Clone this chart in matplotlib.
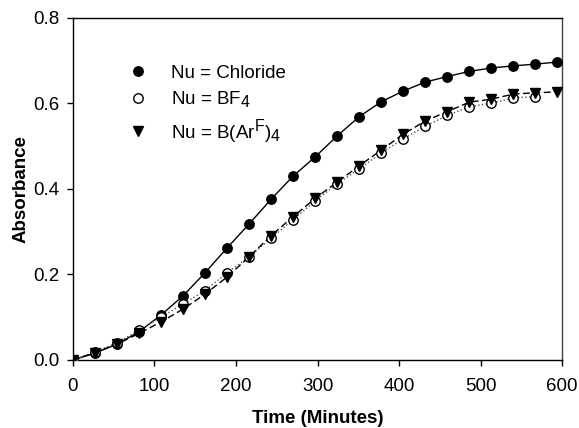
import matplotlib
matplotlib.use("Agg")
import matplotlib.pyplot as plt
import matplotlib._mathtext as _mt

plt.rcParams['font.family'] = ['Liberation Sans', 'DejaVu Sans']
plt.rcParams['mathtext.fontset'] = 'custom'
plt.rcParams['mathtext.rm'] = 'Liberation Sans'
plt.rcParams['mathtext.it'] = 'Liberation Sans'
plt.rcParams['mathtext.bf'] = 'Liberation Sans:bold'
# larger sub/superscripts for the ion formulas
_mt.SHRINK_FACTOR = 0.85

# Sampling times (minutes)
time_min = [0, 27, 54, 81, 108, 135, 162, 189, 216, 243, 270, 297, 324,
            351, 378, 405, 432, 459, 486, 513, 540, 567, 594]

chloride = [0.000, 0.016, 0.037, 0.066, 0.105, 0.150, 0.204, 0.262, 0.318,
            0.376, 0.430, 0.475, 0.524, 0.569, 0.604, 0.629, 0.650, 0.663,
            0.675, 0.683, 0.688, 0.692, 0.697]

bf4 = [0.000, 0.019, 0.040, 0.070, 0.100, 0.131, 0.162, 0.204, 0.241, 0.285,
       0.328, 0.372, 0.412, 0.447, 0.484, 0.517, 0.547, 0.572, 0.592, 0.601,
       0.613, 0.616]

barf4 = [0.000, 0.017, 0.037, 0.062, 0.089, 0.119, 0.154, 0.194, 0.241,
         0.291, 0.335, 0.378, 0.416, 0.454, 0.491, 0.528, 0.559, 0.581,
         0.603, 0.610, 0.622, 0.625, 0.627]

labels = ['Nu = Chloride', r'Nu = BF$_4$', r'Nu = B(Ar$^{\mathrm{F}}$)$_4$']

x_ticks = [0, 100, 200, 300, 400, 500, 600]
y_ticks = [0.0, 0.2, 0.4, 0.6, 0.8]

fig = plt.figure(figsize=(5.79, 4.28), dpi=100)
ax = fig.add_axes([0.126, 0.159, 0.845, 0.799])

ms = 6.8
ax.plot(time_min, chloride, '-', color='black', lw=1.0, zorder=2)
ax.plot(time_min[:len(bf4)], bf4, ':', color='#555555', lw=1.0, zorder=2)
ax.plot(time_min, barf4, '--', color='black', lw=1.0, dashes=(5, 2.5), zorder=2)

ax.plot(time_min, chloride, 'o', color='black', ms=ms, zorder=3, label=labels[0])
ax.plot(time_min[:len(bf4)], bf4, 'o', mfc='white', mec='black', mew=1.0,
        ms=ms, zorder=4, label=labels[1])
ax.plot(time_min, barf4, 'v', color='black', ms=ms, zorder=5, label=labels[2])

ax.set_xlim(0, 600)
ax.set_ylim(0, 0.8)
ax.set_xticks(x_ticks)
ax.set_yticks(y_ticks)
ax.set_yticklabels([f'{v:.1f}' for v in y_ticks])
ax.tick_params(direction='out', length=4, width=1, labelsize=13.5,
               top=False, right=False)
ax.tick_params(axis='x', pad=9)
ax.tick_params(axis='y', pad=6)

for s in ax.spines.values():
    s.set_linewidth(1.0)
    s.set_color('black')
ax.spines['right'].set_color('#444444')

ax.set_xlabel('Time (Minutes)', fontsize=13.5, fontweight='bold', labelpad=11)
ax.set_ylabel('Absorbance', fontsize=13.5, fontweight='bold', labelpad=2.5)

leg = ax.legend(loc='upper left', bbox_to_anchor=(0.099, 0.886), frameon=False,
                fontsize=13.5, handlelength=1.0, handletextpad=1.25,
                labelspacing=0.4, borderaxespad=0.0)

fig.savefig('out.png', dpi=100)
